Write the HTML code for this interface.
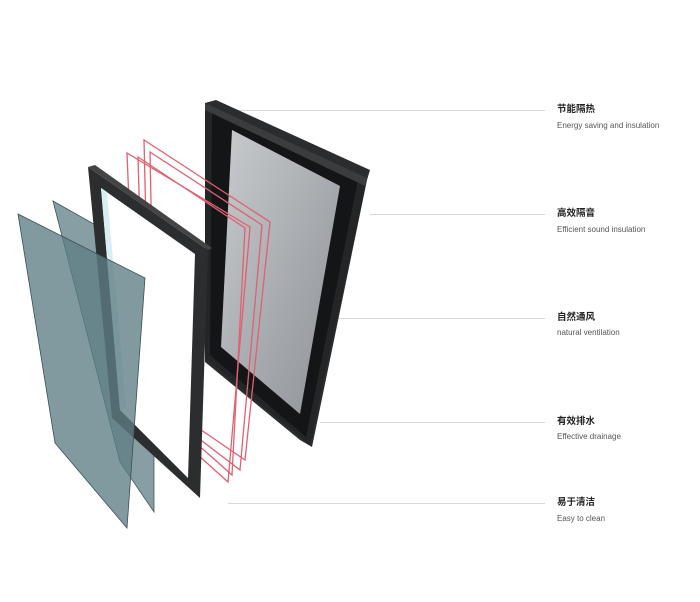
<!DOCTYPE html>
<html><head><meta charset="utf-8"><style>
html,body{margin:0;padding:0;background:#fff;}
body{width:700px;height:602px;position:relative;overflow:hidden;font-family:"Liberation Sans","Noto Sans CJK SC",sans-serif;}
.cn{position:absolute;left:557px;font-size:9.5px;font-weight:bold;color:#222;line-height:12px;}
.en{position:absolute;left:557px;font-size:8px;color:#555;line-height:10px;}
</style></head><body>
<svg width="700" height="602" style="position:absolute;left:0;top:0">
<defs>
<linearGradient id="gl" x1="0" y1="0" x2="1" y2="1"><stop offset="0" stop-color="#c8cbce"/><stop offset="0.6" stop-color="#a4a8ac"/><stop offset="1" stop-color="#8e9296"/></linearGradient>
</defs>
<g stroke="#d8d8d8" stroke-width="1">
<line x1="232" y1="110.5" x2="545" y2="110.5"/>
<line x1="370" y1="214.5" x2="545" y2="214.5"/>
<line x1="335" y1="318.5" x2="545" y2="318.5"/>
<line x1="320" y1="422.5" x2="545" y2="422.5"/>
<line x1="228" y1="503.5" x2="545" y2="503.5"/>
</g>
<!-- back frame -->
<polygon points="205,103 216,100 370,170 367,180 312,447 300,440 205,362" fill="#2a2c2e"/>
<polygon points="205,103 367,178 310,445 205,358" fill="#232527"/>
<polygon points="212,112 358,180 306,437 210,355" fill="#141516"/>
<polygon points="232,130 340,186 300,414 221,347" fill="url(#gl)"/>
<polygon points="205,103 367,178 365,186 205,110" fill="#3a3c3e"/>
<!-- red frames -->
<g fill="none" stroke="#e06070" stroke-width="1.3">
<polygon points="144,140 270,222 245,460 150,395"/>
<polygon points="150,152 262,225 240,470 155,405"/>
<polygon points="127,153 250,227 228,482 137,400"/>
<polygon points="138,157 245,228 232,475 145,398"/>
</g>
<!-- glass pane 2 -->
<polygon points="53,201 154,258 154,512 120,462" fill="#5f7f86" fill-opacity="0.75" stroke="#3f5459" stroke-width="0.8"/>
<!-- dark sash frame -->
<polygon points="88,167 208,250 200,498 112,418" fill="#2b2d2f"/>
<polygon points="101,188 195,254 188,478 120,410" fill="#fff"/>
<polygon points="101,188 107,192 126,407 120,410" fill="#d8eef2"/>
<polygon points="88,167 95,165 212,248 208,250" fill="#444"/>
<!-- glass pane 1 -->
<polygon points="18,214 145,278 127,528 55,443" fill="#5e7d84" fill-opacity="0.78" stroke="#3b4f54" stroke-width="0.8"/>
</svg>
<div class="cn" style="top:104px">节能隔热</div>
<div class="en" style="top:121px">Energy saving and insulation</div>
<div class="cn" style="top:208px">高效隔音</div>
<div class="en" style="top:225px">Efficient sound insulation</div>
<div class="cn" style="top:312px">自然通风</div>
<div class="en" style="top:328px">natural ventilation</div>
<div class="cn" style="top:416px">有效排水</div>
<div class="en" style="top:432px">Effective drainage</div>
<div class="cn" style="top:497px">易于清洁</div>
<div class="en" style="top:514px">Easy to clean</div>
</body></html>
